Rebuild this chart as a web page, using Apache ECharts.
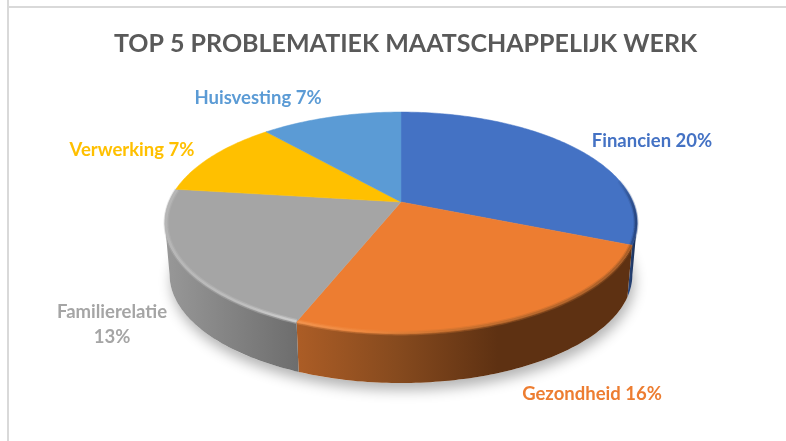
<!DOCTYPE html>
<html>
<head>
<meta charset="utf-8">
<style>
html,body{margin:0;padding:0;background:#fff}
#chart{width:786px;height:441px}
</style>
<script src="https://cdn.jsdelivr.net/npm/echarts@6/dist/echarts.min.js"></script>
</head>
<body>
<div id="chart"></div>
<script>
const chartTitle = 'TOP 5 PROBLEMATIEK MAATSCHAPPELIJK WERK'
const categories = ['Financien', 'Gezondheid', 'Familierelatie', 'Verwerking', 'Huisvesting']
const sliceValues = [20, 16, 13.4, 7.4, 7.4]

const topColors = ['#4472c4', '#ed7d31', '#a5a5a5', '#ffc000', '#5b9bd5']
const labelColors = ['#4472c4', '#ed7d31', '#a5a5a5', '#ffc000', '#5b9bd5']
const sideStops = [
  [[0, '#2b4a82'], [1, '#16294d']],
  [[0, '#ac5d26'], [0.3, '#864a1e'], [0.6, '#5e3112'], [1, '#5e3112']],
  [[0, '#989898'], [1, '#6d6d6d']],
  null,
  null
]
// rim highlight per slice: from angle (deg), to angle (deg), gradient stops
const rimStyles = [
  [78, 112, [[0, 'rgba(40,70,125,0)'], [1, 'rgba(30,55,105,0.9)']]],
  [112, 202, [[0, '#f39550'], [0.2, '#f08a40'], [0.45, '#c8702e'], [1, '#a05a26']]],
  [202, 277, [[0, '#b8b8b8'], [0.55, '#c0c0c0'], [1, '#d4d4d4']]],
  null,
  null
]
const labelAnchors = [[652, 141], [592, 394], [112, 325], [132, 150], [258, 98]]

// perspective disc
const cx = 401, cy = 202, discA = 232, discB = 106.7, tilt = 0.186
const bottomCy = 254.6, bottomScale = 0.98
const rad = Math.PI / 180
const edgeAngle = Math.acos(-tilt) / rad   // where the side wall starts to show

const total = sliceValues.reduce((a, b) => a + b, 0)
const starts = []
sliceValues.reduce((sum, v, i) => { starts[i] = sum / total * 360; return sum + v }, 0)

function project(deg, y0, s) {
  const u = Math.sin(deg * rad), v = -Math.cos(deg * rad), w = 1 - tilt * v
  return [cx + s * discA * u / w, y0 + s * discB * v / w]
}
function arc(a1, a2, y0, s) {
  const pts = [], n = Math.max(2, Math.ceil(Math.abs(a2 - a1)))
  for (let i = 0; i <= n; i++) pts.push(project(a1 + (a2 - a1) * i / n, y0, s))
  return pts
}
function hGrad(stops) {
  return new echarts.graphic.LinearGradient(0, 0, 1, 0, stops.map(s => ({ offset: s[0], color: s[1] })))
}

function renderSlice(params, api) {
  const i = params.dataIndex
  const a1 = starts[i], a2 = a1 + api.value(0) / total * 360
  const children = []

  if (i === 0) {
    children.push({
      type: 'polygon', silent: true,
      shape: { points: arc(0, 360, bottomCy, bottomScale) },
      style: { fill: '#fff', shadowBlur: 13, shadowOffsetY: 7, shadowOffsetX: 2, shadowColor: 'rgba(0,0,0,0.3)' }
    })
  }

  // side wall
  const s1 = Math.max(a1, edgeAngle), s2 = Math.min(a2, 360 - edgeAngle)
  if (sideStops[i] && s2 > s1) {
    const upper = arc(s1, s2, cy, 1)
    const lower = arc(s2, s1, bottomCy, bottomScale)
    children.push({
      type: 'polygon', silent: true,
      shape: { points: upper.concat(lower) },
      style: { fill: hGrad(sideStops[i]), stroke: null }
    })
  }

  // top face
  children.push({
    type: 'polygon', silent: true,
    shape: { points: [[cx, cy]].concat(arc(a1, a2, cy, 1)) },
    style: { fill: topColors[i], stroke: topColors[i], lineWidth: 0.5 }
  })

  // soft bevel on the rim
  if (rimStyles[i]) {
    const r = rimStyles[i]
    const line = arc(r[0], r[1], cy + 0.5, 0.995)
    children.push({
      type: 'polyline', silent: true,
      shape: { points: line },
      style: { fill: null, stroke: hGrad(r[2]), lineWidth: 5, opacity: 0.35 }
    }, {
      type: 'polyline', silent: true,
      shape: { points: line },
      style: { fill: null, stroke: hGrad(r[2]), lineWidth: 2.5, opacity: 0.8 }
    })
  }

  // label
  const pct = Math.round(api.value(0))
  const text = categories[i] === 'Familierelatie'
    ? categories[i] + '\n' + pct + '%'
    : categories[i] + ' ' + pct + '%'
  children.push({
    type: 'text', silent: true, z2: 10,
    style: {
      x: labelAnchors[i][0], y: labelAnchors[i][1], text: text,
      align: 'center', verticalAlign: 'middle',
      fill: labelColors[i],
      font: 'bold 18.5px Lato, sans-serif', lineHeight: 25
    }
  })
  return { type: 'group', children: children }
}

const mychart = echarts.init(document.getElementById('chart'), null, { renderer: 'canvas' })
const option = {
  animation: false,
  backgroundColor: '#fff',
  title: {
    text: chartTitle,
    left: 400.5, top: 26, textAlign: 'center',
    textStyle: { color: '#595959', fontFamily: 'Lato', fontWeight: 'bold', fontSize: 25 }
  },
  graphic: [
    { type: 'rect', silent: true, shape: { x: 7, y: 0, width: 2, height: 441 }, style: { fill: '#d9d9d9' } },
    { type: 'rect', silent: true, shape: { x: 7, y: 6, width: 779, height: 2 }, style: { fill: '#d9d9d9' } }
  ],
  series: [{
    type: 'custom',
    coordinateSystem: 'none',
    renderItem: renderSlice,
    data: sliceValues.map((v, i) => ({ name: categories[i], value: [v] }))
  }]
}
mychart.setOption(option, true)
</script>
</body>
</html>
